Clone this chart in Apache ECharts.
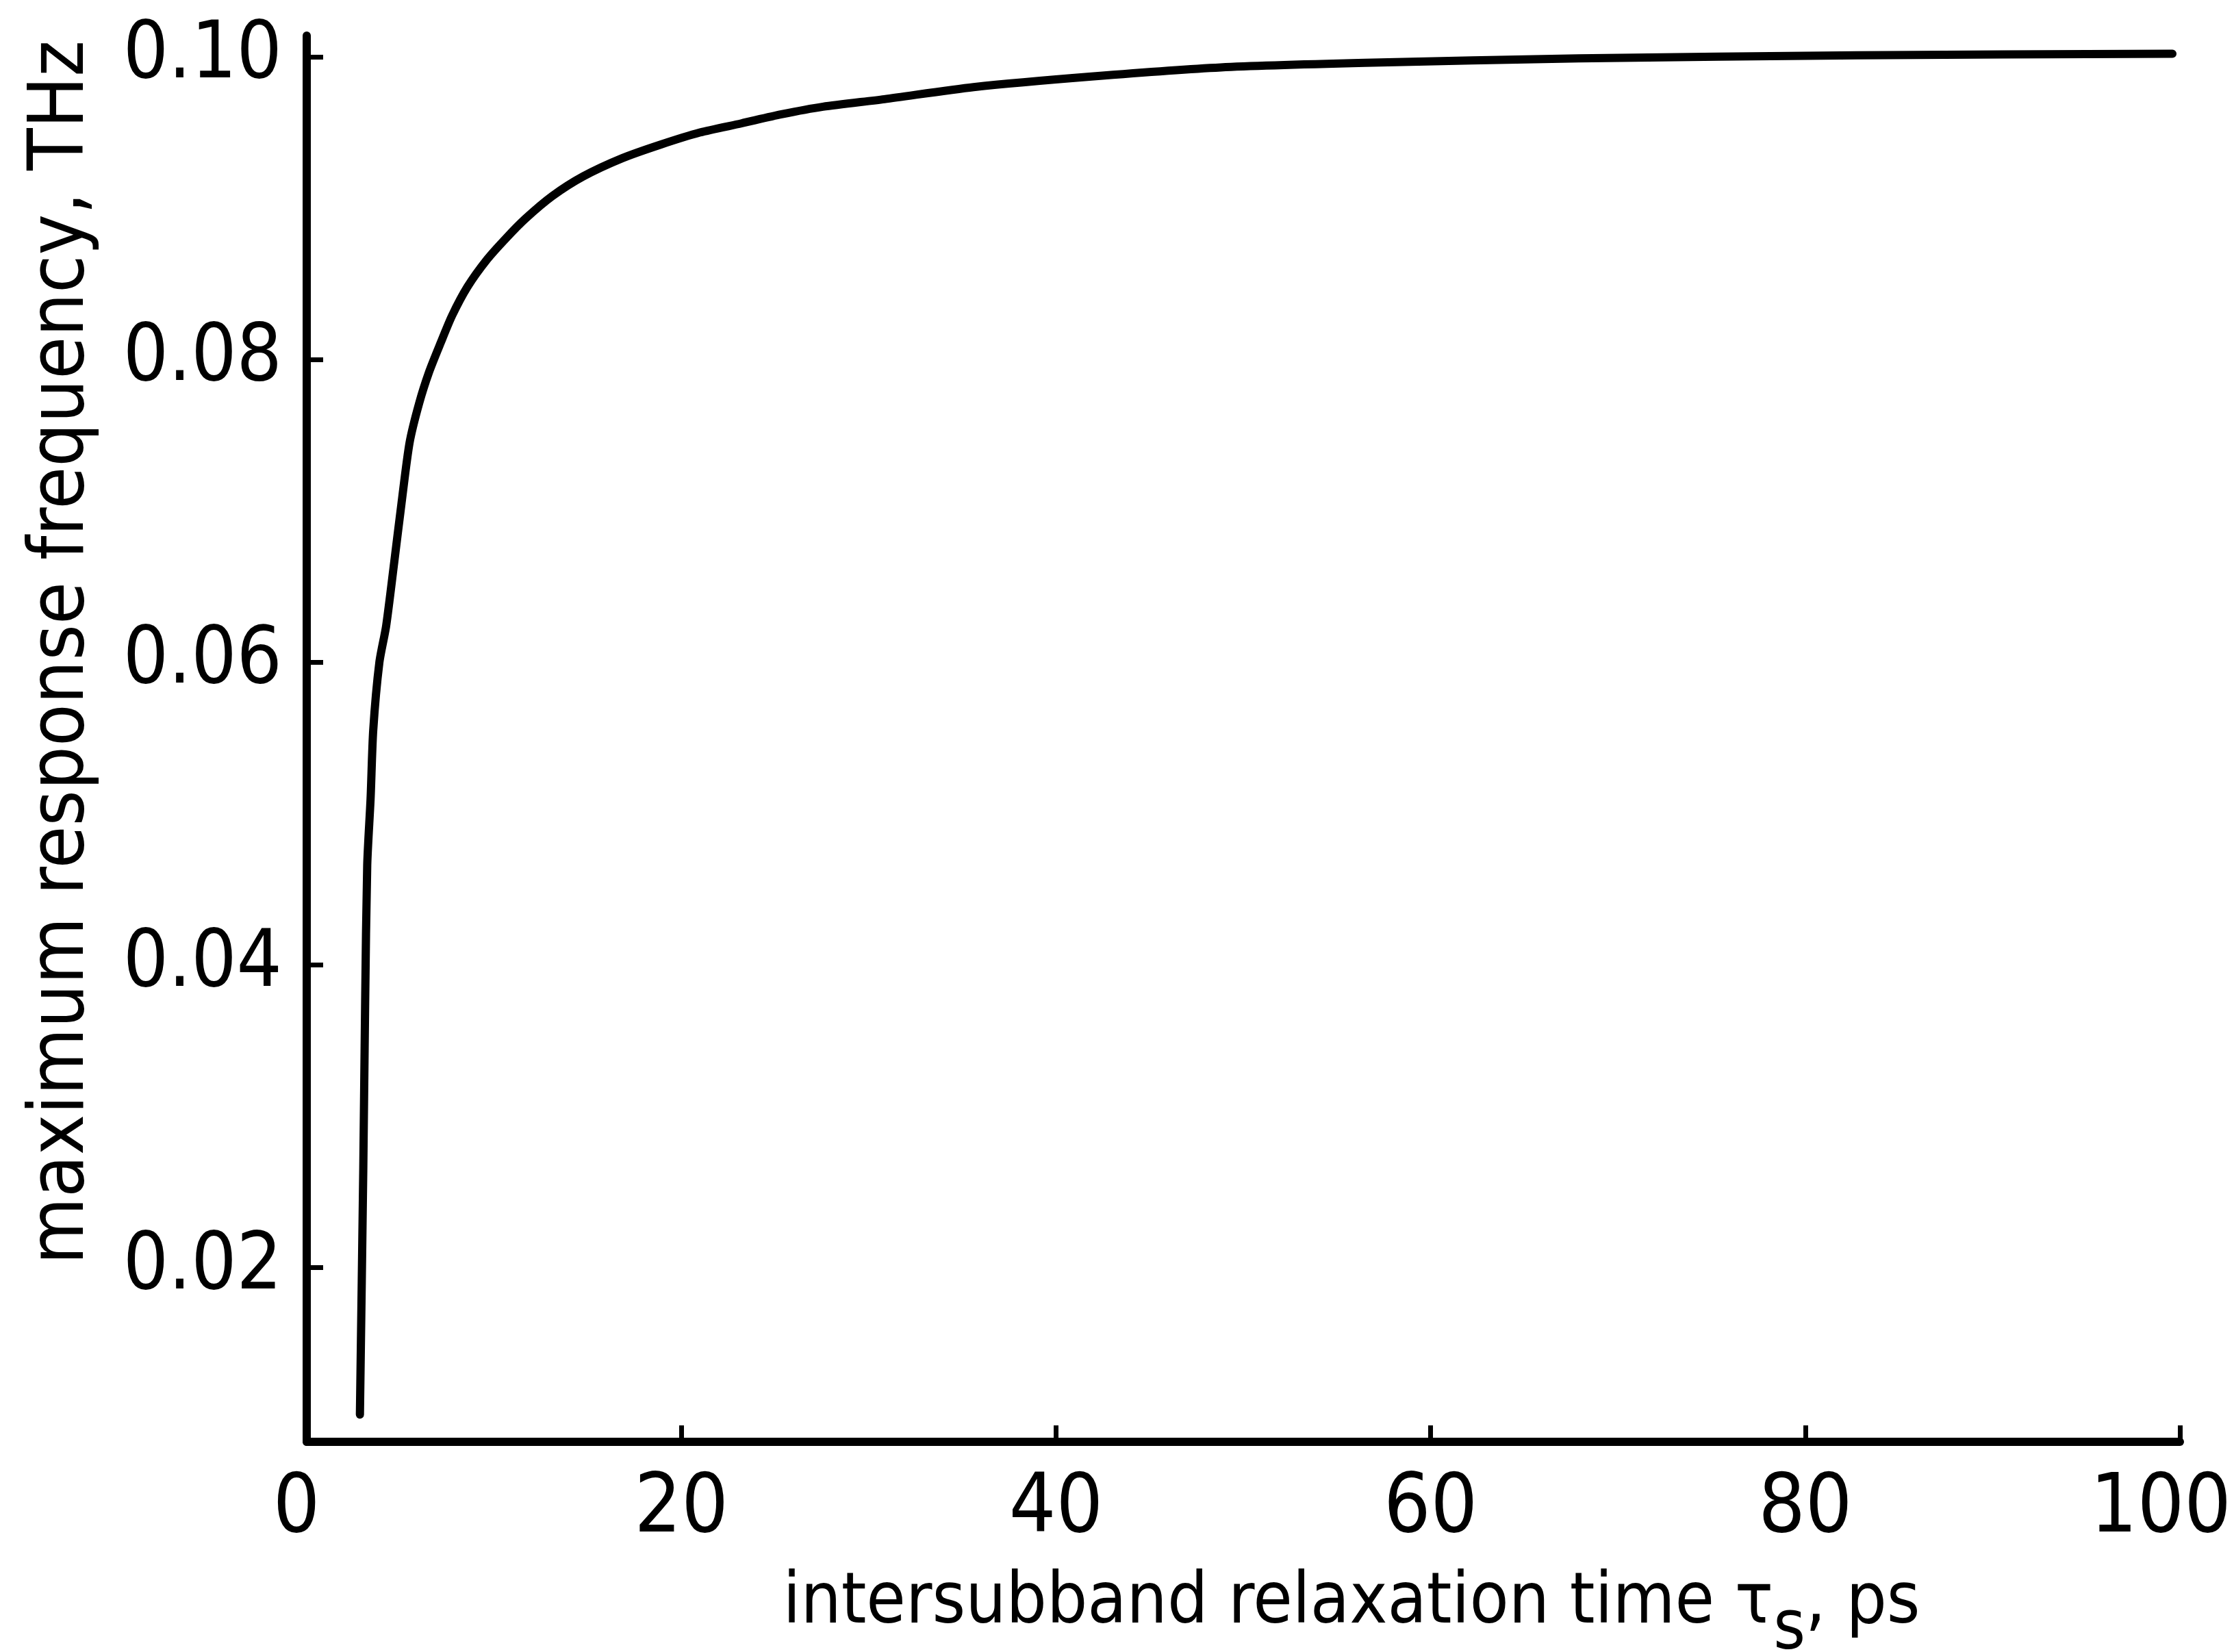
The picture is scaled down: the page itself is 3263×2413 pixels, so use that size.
<!DOCTYPE html>
<html><head><meta charset="utf-8">
<script src="https://cdn.jsdelivr.net/npm/echarts@6/dist/echarts.min.js"></script>
<style>html,body{margin:0;padding:0;background:#fff}#c{width:3263px;height:2413px}</style>
</head><body><div id="c"></div>
<script>
// intersubband relaxation time tau_s (ps)
const tau = [2.84, 3.02, 3.12, 3.23, 3.41, 3.55, 3.88, 4.24, 4.67, 5.06, 5.49, 6.00, 6.54, 7.15, 7.76, 8.58, 9.62, 10.63, 11.67, 13.11, 14.76, 16.84, 18.89, 20.99, 23.2, 25.35, 27.56, 30.84, 35.6, 41.9, 48.8, 56.5, 67.9, 82.8, 99.6];
// maximum response frequency (THz)
const freq = [0.0103, 0.0266, 0.0376, 0.0466, 0.0510, 0.0555, 0.0600, 0.0624, 0.0666, 0.0705, 0.0745, 0.0771, 0.0792, 0.0811, 0.0829, 0.0848, 0.0866, 0.0880, 0.0893, 0.0908, 0.0921, 0.0933, 0.0942, 0.0950, 0.0956, 0.0962, 0.0967, 0.0972, 0.0980, 0.0987, 0.0993, 0.0996, 0.0999, 0.1001, 0.1002];
const yTicks = [0.02, 0.04, 0.06, 0.08, 0.10];
const xTickStep = 20;
const xTitleMain = 'intersubband relaxation time τ';
const xTitleSub = 's';
const xTitleEnd = ', ps';
const yTitle = 'maximum response frequency, THz';

const FONT = "'Liberation Sans Narrow','DejaVu Sans Condensed','DejaVu Sans',sans-serif";
const chart = echarts.init(document.getElementById('c'), null, {renderer: 'canvas'});
const pts = tau.map((t, i) => [t, freq[i]]);
chart.setOption({
  backgroundColor: '#ffffff',
  animation: false,
  grid: {left: 448, right: 79, top: 52, bottom: 307, containLabel: false, outerBoundsMode: 'none'},
  xAxis: {
    type: 'value', min: 0, max: 100, interval: xTickStep,
    axisLine: {onZero: false, lineStyle: {color: '#000', width: 12}},
    axisTick: {inside: true, length: 24, lineStyle: {color: '#000', width: 7}},
    splitLine: {show: false},
    axisLabel: {
      margin: 40, color: '#000', fontSize: 120, fontFamily: FONT,
      formatter: v => v === 100 ? '{e|100}' : (v === 0 ? '{z|0}' : String(v)),
      rich: {
        e: {fontSize: 120, fontFamily: FONT, color: '#000', padding: [0, 56, 0, 0]},
        z: {fontSize: 120, fontFamily: FONT, color: '#000', padding: [0, 30, 0, 0]}
      }
    },
    name: '{m|' + xTitleMain + '}{s|' + xTitleSub + '}{m|' + xTitleEnd + '}',
    nameLocation: 'middle', nameGap: 185,
    nameTextStyle: {
      color: '#000', fontSize: 104, fontFamily: FONT, padding: [0, 0, 0, 316],
      rich: {
        m: {fontSize: 104, fontFamily: FONT, color: '#000', lineHeight: 122, verticalAlign: 'top'},
        s: {fontSize: 100, fontFamily: FONT, color: '#000', lineHeight: 141, verticalAlign: 'bottom'}
      }
    }
  },
  yAxis: {
    type: 'value', min: 0.0085, max: 0.1014,
    axisLine: {show: true, lineStyle: {color: '#000', width: 12}},
    axisTick: {show: true, inside: true, length: 24, lineStyle: {color: '#000', width: 7}, customValues: yTicks},
    splitLine: {show: false},
    axisLabel: {
      margin: 36, color: '#000', fontSize: 116, fontFamily: FONT,
      customValues: yTicks,
      formatter: v => v.toFixed(2)
    },
    name: yTitle, nameLocation: 'middle', nameGap: 300,
    nameTextStyle: {color: '#000', fontSize: 112, fontFamily: FONT, padding: [0, 0, 0, 252]}
  },
  series: [{
    type: 'line', data: pts, showSymbol: false, smooth: 0.25,
    lineStyle: {color: '#000', width: 12, join: 'round', cap: 'round'}, clip: false
  }]
});
</script></body></html>
